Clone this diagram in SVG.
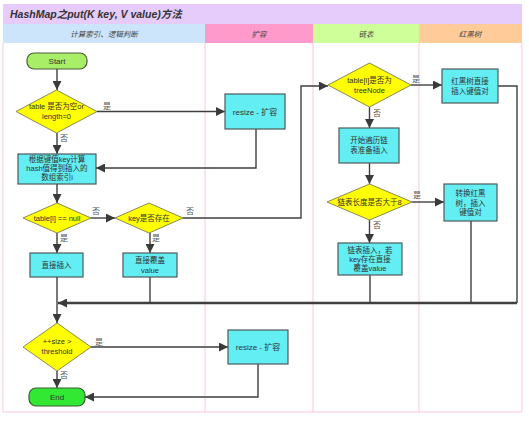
<svg xmlns="http://www.w3.org/2000/svg" width="529" height="426" viewBox="0 0 529 426">
<defs>
<marker id="arr" viewBox="0 0 10 10" refX="10" refY="5" markerWidth="9" markerHeight="9" markerUnits="userSpaceOnUse" orient="auto">
<path d="M0,0 L10,5 L0,10 z" fill="#3a3a3a"/>
</marker>
</defs>
<style>
text{font-family:"Liberation Sans","Noto Sans CJK SC",sans-serif;fill:#333;}
.t{font-size:7.5px;text-anchor:middle;}
.lbl{font-size:8px;fill:#555;}
.hdr{font-size:7.5px;font-style:italic;text-anchor:middle;fill:#444;}
.box{fill:#62EEF3;stroke:#4d5a5c;stroke-width:1.2;}
.dia{fill:#FFFF00;stroke:#8a8a50;stroke-width:1;}
.lane{fill:none;stroke:#FBC9D6;stroke-width:1;}
.c{fill:none;stroke:#3f3f3f;stroke-width:1.4;}
.a{marker-end:url(#arr);}
.thick{stroke-width:2.6;}
</style>
<rect width="529" height="426" fill="#fff"/>
<g id="lanes">
<rect x="3" y="4" width="519" height="20" fill="#E6CCFA"/>
<text x="10" y="18" style="font-size:10.5px;font-weight:bold;font-style:italic;fill:#333">HashMap之put(K key, V value)方法</text>
<rect x="3" y="24" width="202" height="19" fill="#CCE5FB"/>
<rect x="205" y="24" width="108" height="19" fill="#FF9ACB"/>
<rect x="313" y="24" width="106" height="19" fill="#CEFF99"/>
<rect x="419" y="24" width="103" height="19" fill="#FFCC99"/>
<text class="hdr" x="104" y="36.5">计算索引、逻辑判断</text>
<text class="hdr" x="259" y="36.5">扩容</text>
<text class="hdr" x="366" y="36.5">链表</text>
<text class="hdr" x="470" y="36.5">红黑树</text>
<path class="lane" d="M3,43 V412 H522 V43 M205,43 V412 M313,43 V412 M419,43 V412"/>
</g>
<g id="connectors">
<path class="c a" d="M57,69 V90"/>
<path class="c a" d="M97,111.5 H225"/>
<path class="c a" d="M57,133 V154"/>
<path class="c a" d="M256,129 V168 H96"/>
<path class="c a" d="M57,184 V203"/>
<path class="c a" d="M91,218 H115"/>
<path class="c a" d="M183,218 H301 V86 H328"/>
<path class="c a" d="M57,233 V253"/>
<path class="c a" d="M150,233 V253"/>
<path class="c a" d="M57,277 V323"/>
<path class="c" d="M150,277 V303"/>
<path class="c" d="M498,86 H517 V303"/>
<path class="c" d="M370,275 V303"/>
<path class="c" d="M471,221 V303"/>
<path class="c thick a" d="M517,303 H58"/>
<path class="c a" d="M411,85 H442"/>
<path class="c a" d="M369.5,107 V128"/>
<path class="c a" d="M369.5,163 V184"/>
<path class="c a" d="M412,202 H444"/>
<path class="c a" d="M369.5,220 V243"/>
<path class="c a" d="M91,347 H228"/>
<path class="c a" d="M57,371 V388"/>
<path class="c a" d="M258,364 V397 H85"/>
<text class="lbl" x="103" y="109">是</text>
<text class="lbl" x="60" y="141">否</text>
<text class="lbl" x="92" y="214">否</text>
<text class="lbl" x="186" y="214">否</text>
<text class="lbl" x="60" y="241">是</text>
<text class="lbl" x="152" y="241">是</text>
<text class="lbl" x="412" y="82">是</text>
<text class="lbl" x="373" y="116">否</text>
<text class="lbl" x="413" y="198">是</text>
<text class="lbl" x="373" y="228">否</text>
<text class="lbl" x="95" y="345">是</text>
<text class="lbl" x="60" y="378">否</text>
</g>
<g id="start">
<rect x="27" y="53" width="60" height="16" rx="7" fill="#A8EE66" stroke="#4a5a3a" stroke-width="1.2"/>
<text class="t" x="57" y="64" style="font-size:8px">Start</text>
</g>
<g id="d1">
<polygon class="dia" points="56.5,90 97,111.5 56.5,133 16,111.5"/>
<text class="t" x="56.5" y="109">table 是否为空or</text>
<text class="t" x="56.5" y="119">length=0</text>
</g>
<g id="resize1">
<rect class="box" x="225" y="94" width="60" height="35"/>
<text class="t" x="255" y="114.5" style="font-size:8px">resize - 扩容</text>
</g>
<g id="calcIndex">
<rect class="box" x="18" y="154" width="78" height="30"/>
<text class="t" x="57" y="162">根据键值key计算</text>
<text class="t" x="57" y="171">hash值得到插入的</text>
<text class="t" x="57" y="180">数组索引i</text>
</g>
<g id="d2">
<polygon class="dia" points="57,203 91,218 57,233 23,218"/>
<text class="t" x="57" y="220.5">table[i] == null</text>
</g>
<g id="d3">
<polygon class="dia" points="149,203 183,218 149,233 115,218"/>
<text class="t" x="149" y="220.5">key是否存在</text>
</g>
<g id="directInsert">
<rect class="box" x="30" y="253" width="53" height="24"/>
<text class="t" x="56.5" y="267.5">直接插入</text>
</g>
<g id="overwrite">
<rect class="box" x="123" y="253" width="54" height="24"/>
<text class="t" x="150" y="263">直接覆盖</text>
<text class="t" x="150" y="273">value</text>
</g>
<g id="d4">
<polygon class="dia" points="57,323 91,347 57,371 23,347"/>
<text class="t" x="57" y="344">++size &gt;</text>
<text class="t" x="57" y="354">threshold</text>
</g>
<g id="resize2">
<rect class="box" x="228" y="330" width="60" height="34"/>
<text class="t" x="258" y="350" style="font-size:8px">resize - 扩容</text>
</g>
<g id="end">
<rect x="29" y="388" width="56" height="18" rx="7" fill="#33E833" stroke="#3a5a3a" stroke-width="1.2"/>
<text class="t" x="57" y="400" style="font-size:8px">End</text>
</g>
<g id="d5">
<polygon class="dia" points="369.5,63 411,85 369.5,107 328,85"/>
<text class="t" x="369.5" y="83">table[i]是否为</text>
<text class="t" x="369.5" y="93">treeNode</text>
</g>
<g id="traverse">
<rect class="box" x="339" y="128" width="60" height="35"/>
<text class="t" x="369" y="143">开始遍历链</text>
<text class="t" x="369" y="153">表准备插入</text>
</g>
<g id="d6">
<polygon class="dia" points="369.5,184 412,202 369.5,220 327,202"/>
<text class="t" x="369.5" y="204.5">链表长度是否大于8</text>
</g>
<g id="listInsert">
<rect class="box" x="338" y="243" width="64" height="32"/>
<text class="t" x="370" y="253">链表插入，若</text>
<text class="t" x="370" y="262">key存在直接</text>
<text class="t" x="370" y="271">覆盖value</text>
</g>
<g id="rbInsert">
<rect class="box" x="442" y="69" width="56" height="34"/>
<text class="t" x="470" y="84">红黑树直接</text>
<text class="t" x="470" y="94">插入键值对</text>
</g>
<g id="rbConvert">
<rect class="box" x="444" y="184" width="53" height="37"/>
<text class="t" x="470.5" y="196">转换红黑</text>
<text class="t" x="470.5" y="205.5">树，插入</text>
<text class="t" x="470.5" y="215">键值对</text>
</g>
</svg>
